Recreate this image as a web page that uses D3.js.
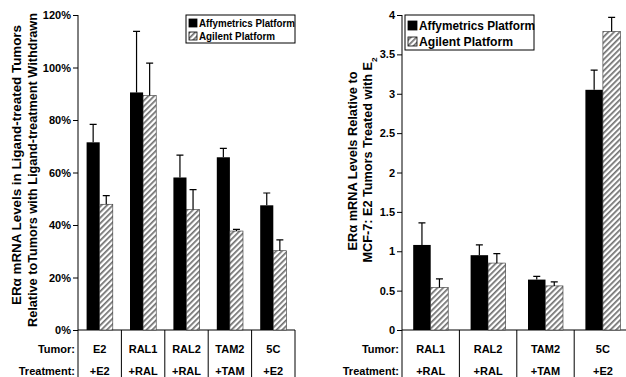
<!DOCTYPE html>
<html><head><meta charset="utf-8">
<script src="https://cdn.jsdelivr.net/npm/d3@7"></script>
<style>body{margin:0;background:#fff}svg text{font-family:"Liberation Sans",Arial,sans-serif;font-weight:700}</style>
</head><body>
<svg id="c" width="626" height="377"></svg>
<script>
const series = ["Affymetrics Platform", "Agilent Platform"];

const leftTumors = ["E2", "RAL1", "RAL2", "TAM2", "5C"];
const leftTreatments = ["+E2", "+RAL", "+RAL", "+TAM", "+E2"];
const leftAffy = [71.5, 90.5, 58.1, 65.8, 47.5];
const leftAffyErr = [6.8, 23.3, 8.5, 3.4, 4.7];
const leftAgil = [47.9, 89.3, 45.9, 37.7, 30.2];
const leftAgilErr = [3.3, 12.4, 7.6, 0.6, 4.1];
const leftTicks = [0, 20, 40, 60, 80, 100, 120];
const leftTitle = ["ERα mRNA Levels in Ligand-treated Tumors", "Relative toTumors with Ligand-treatment Withdrawn"];

const rightTumors = ["RAL1", "RAL2", "TAM2", "5C"];
const rightTreatments = ["+RAL", "+RAL", "+TAM", "+E2"];
const rightAffy = [1.08, 0.95, 0.64, 3.05];
const rightAffyErr = [0.28, 0.13, 0.04, 0.25];
const rightAgil = [0.54, 0.85, 0.56, 3.79];
const rightAgilErr = [0.11, 0.12, 0.05, 0.18];
const rightTicks = [0, 0.5, 1, 1.5, 2, 2.5, 3, 3.5, 4];
const rightTitle = ["ERα mRNA Levels Relative to", "MCF-7: E2 Tumors Treated with E"];

const svg = d3.select("#c");
const defs = svg.append("defs");
const pat = defs.append("pattern").attr("id", "hatch").attr("patternUnits", "userSpaceOnUse")
  .attr("width", 4).attr("height", 4).attr("patternTransform", "rotate(45)");
pat.append("rect").attr("width", 4).attr("height", 4).attr("fill", "#ffffff");
pat.append("rect").attr("width", 1.7).attr("height", 4).attr("fill", "#707070");

function panel(opt) {
  const g = svg.append("g");
  const y = d3.scaleLinear().domain(opt.domain).range([330, 15]);
  const x = d3.scaleBand().domain(opt.tumors.map((d, i) => i)).range([opt.x0, opt.x1]).paddingInner(0).paddingOuter(0);
  const inner = d3.scaleBand().domain([0, 1]).range([opt.pad, x.bandwidth() - opt.pad]);

  // y axis
  const ax = d3.axisLeft(y).tickValues(opt.ticks).tickFormat(opt.fmt).tickSizeOuter(0).tickSize(5);
  const ag = g.append("g").attr("transform", `translate(${opt.x0},0)`).call(ax);
  ag.attr("font-family", null).attr("font-size", null);
  ag.select(".domain").remove();
  ag.selectAll("line").attr("stroke", "#000");
  ag.selectAll("text").attr("font-size", opt.tickFont).attr("fill", "#000").attr("x", -7);
  g.append("line").attr("x1", opt.x0).attr("x2", opt.x0).attr("y1", y(opt.domain[1])).attr("y2", 377).attr("stroke", "#000");
  g.append("line").attr("x1", opt.x0).attr("x2", opt.axisEnd).attr("y1", 330).attr("y2", 330).attr("stroke", "#000");

  // separators
  opt.tumors.forEach((t, i) => {
    g.append("line").attr("x1", x(i) + x.bandwidth()).attr("x2", x(i) + x.bandwidth())
      .attr("y1", 330).attr("y2", 377).attr("stroke", "#000");
  });

  const data = [opt.affy, opt.agil];
  const errs = [opt.affyErr, opt.agilErr];
  [0, 1].forEach(s => {
    const grp = g.append("g");
    grp.selectAll("rect").data(data[s]).join("rect")
      .attr("x", (d, i) => x(i) + inner(s))
      .attr("width", inner.bandwidth())
      .attr("y", d => y(d))
      .attr("height", d => 330 - y(d))
      .attr("fill", s === 0 ? "#000" : "url(#hatch)")
      .attr("stroke", s === 0 ? "none" : "#333").attr("stroke-width", s === 0 ? 0 : 0.6);
    grp.selectAll("path.err").data(data[s]).join("path").attr("class", "err")
      .attr("d", (d, i) => {
        const cx = x(i) + inner(s) + inner.bandwidth() / 2;
        const top = y(d + errs[s][i]);
        return `M${cx},${y(d)}V${top}M${cx - 3.5},${top}H${cx + 3.5}`;
      })
      .attr("stroke", "#000").attr("stroke-width", 1.2).attr("fill", "none");
  });

  // category labels
  g.selectAll("text.tum").data(opt.tumors).join("text").attr("class", "tum")
    .attr("x", (d, i) => x(i) + x.bandwidth() / 2).attr("y", 353).attr("text-anchor", "middle")
    .attr("font-size", 11).text(d => d);
  g.selectAll("text.trt").data(opt.treatments).join("text").attr("class", "trt")
    .attr("x", (d, i) => x(i) + x.bandwidth() / 2).attr("y", 375).attr("text-anchor", "middle")
    .attr("font-size", 11).text(d => d);
  g.append("text").attr("x", opt.x0 - 3).attr("y", 353).attr("text-anchor", "end").attr("font-size", 11).text("Tumor:");
  g.append("text").attr("x", opt.x0 - 3).attr("y", 375).attr("text-anchor", "end").attr("font-size", 11).text("Treatment:");

  // legend
  const L = opt.legend;
  const lg = g.append("g");
  lg.append("rect").attr("x", L.x).attr("y", L.y).attr("width", L.w).attr("height", L.h)
    .attr("fill", "#fff").attr("stroke", "#000").attr("stroke-width", 1);
  series.forEach((s, i) => {
    const ry = L.y + L.row0 + i * L.dy;
    lg.append("rect").attr("x", L.x + 3).attr("y", ry - L.sq).attr("width", L.sq).attr("height", L.sq)
      .attr("fill", i === 0 ? "#000" : "url(#hatch)").attr("stroke", "#000").attr("stroke-width", 0.8);
    lg.append("text").attr("x", L.x + 5 + L.sq).attr("y", ry).attr("font-size", L.font)
      .attr("textLength", L.lens[i]).attr("lengthAdjust", "spacingAndGlyphs").text(s);
  });

  // y title lines
  opt.titles.forEach((T, i) => {
    const t = g.append("text")
      .attr("transform", `translate(${T.x},${T.cy}) rotate(-90)`)
      .attr("text-anchor", "middle").attr("font-size", T.size)
      .attr("textLength", T.len).attr("lengthAdjust", "spacingAndGlyphs");
    t.append("tspan").text(opt.titleText[i]);
    if (T.sub) t.append("tspan").attr("baseline-shift", "sub").attr("font-size", T.size * 0.65).text(T.sub);
  });
}

panel({
  domain: [0, 120], ticks: leftTicks, fmt: d => d + "%", tickFont: 11,
  tumors: leftTumors, treatments: leftTreatments,
  affy: leftAffy, affyErr: leftAffyErr, agil: leftAgil, agilErr: leftAgilErr,
  x0: 78, x1: 295, axisEnd: 295, pad: 8.6,
  legend: {x: 186, y: 15, w: 109, h: 28, row0: 12, dy: 13, sq: 8, font: 11, lens: [96, 76]},
  titleText: leftTitle,
  titles: [{x: 21, cy: 165, size: 12.5, len: 280}, {x: 37, cy: 170, size: 12.5, len: 314}]
});

panel({
  domain: [0, 4], ticks: rightTicks, fmt: d => d, tickFont: 11,
  tumors: rightTumors, treatments: rightTreatments,
  affy: rightAffy, affyErr: rightAffyErr, agil: rightAgil, agilErr: rightAgilErr,
  x0: 402, x1: 631.6, axisEnd: 626, pad: 11.2,
  legend: {x: 405, y: 15, w: 129, h: 35, row0: 15, dy: 16, sq: 9, font: 12.5, lens: [116, 94]},
  titleText: rightTitle,
  titles: [{x: 357, cy: 161, size: 12.5, len: 179}, {x: 372, cy: 160, size: 12.5, len: 205, sub: "2"}]
});
</script>
</body></html>
